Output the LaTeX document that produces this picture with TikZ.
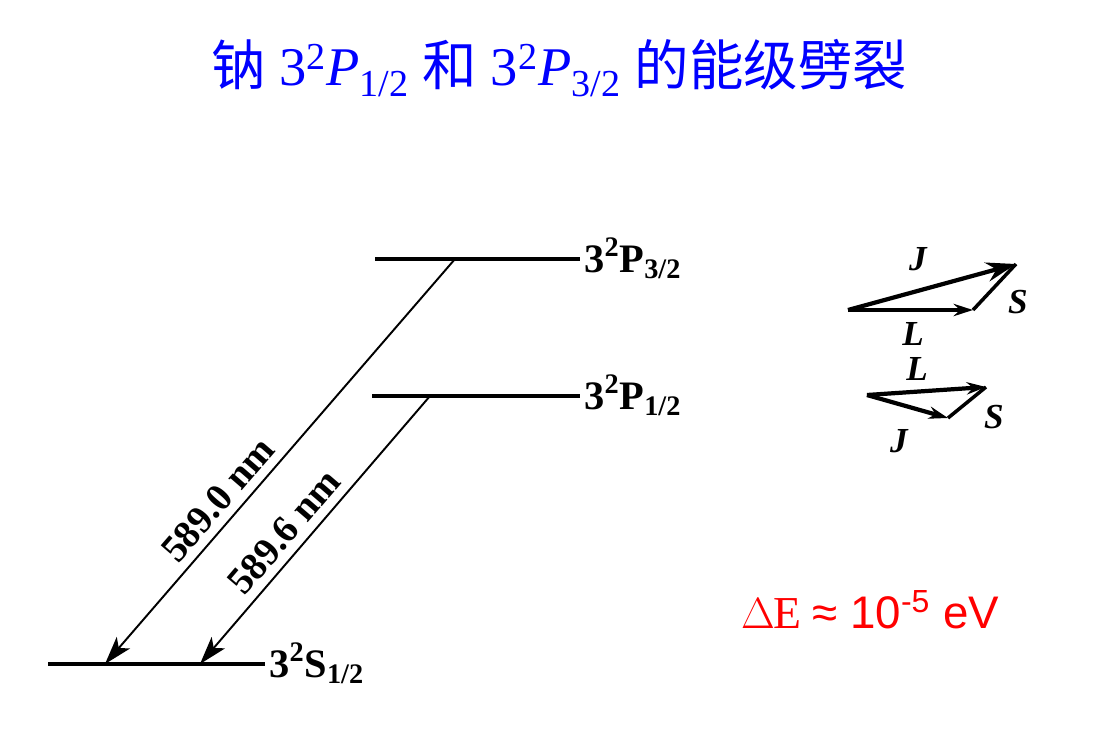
\documentclass[tikz,border=0pt]{standalone}
\usepackage{fontspec}
\setmainfont{Liberation Serif}
\setsansfont{Liberation Sans}
\newfontfamily\cjk{Noto Sans CJK SC}
\usetikzlibrary{arrows.meta}

\begin{document}
\begin{tikzpicture}[scale=0.2]
\tikzstyle{every node}+=[inner sep=0pt]
\tikzstyle{level}=[black, line width=2pt]
\tikzstyle{trans}=[black, line width=1.1pt, -{Stealth[length=16pt,width=10pt,inset=4pt]}]
\tikzstyle{vec}=[black, line width=2.4pt, -{Stealth[length=11pt,width=7pt]}]
\tikzstyle{term}=[anchor=base west, font=\fontsize{23}{23}\selectfont\bfseries]
\tikzstyle{wave}=[font=\fontsize{22}{22}\selectfont\bfseries, sloped, above=5pt]
\tikzstyle{vlab}=[font=\fontsize{20}{20}\selectfont\bfseries\itshape]
\useasboundingbox (0,0) rectangle (110.3,-73.2);
% title
\node (title) [text=blue, font=\fontsize{31}{31}\selectfont] at (55.9,-6.8)
  {{\cjk 钠} 3\textsuperscript{2}\textit{P}\textsubscript{1/2} {\cjk 和} 3\textsuperscript{2}\textit{P}\textsubscript{3/2} {\cjk 的能级劈裂}};
% levels
\coordinate (p3a) at (37.5,-25.9);
\coordinate (p3b) at (58,-25.9);
\coordinate (p1a) at (37.2,-39.6);
\coordinate (p1b) at (58,-39.6);
\coordinate (s1a) at (4.8,-66.4);
\coordinate (s1b) at (26.5,-66.4);
\draw [level] (p3a) -- (p3b);
\draw [level] (p1a) -- (p1b);
\draw [level] (s1a) -- (s1b);
\node (p3) [term] at (58.4,-27.2) {3\textsuperscript{2}P\textsubscript{3/2}};
\node (p1) [term] at (58.4,-40.9) {3\textsuperscript{2}P\textsubscript{1/2}};
\node (s1) [term] at (26.9,-67.7) {3\textsuperscript{2}S\textsubscript{1/2}};
% transitions
\coordinate (t1s) at (45.5,-25.9);
\coordinate (t1e) at (10.5,-66.4);
\coordinate (t2s) at (43,-39.6);
\coordinate (t2e) at (20,-66.4);
\draw [trans] (t1s) -- (t1e);
\draw [trans] (t2s) -- (t2e);
\path (t1e) -- (t1s) node [wave, pos=0.37] (w1) {589.0 nm};
\path (t2e) -- (t2s) node [wave, pos=0.44] (w2) {589.6 nm};
% vector model, j = 3/2
\coordinate (o1) at (84.8,-31.0);
\coordinate (l1) at (97.3,-31.0);
\coordinate (j1) at (101.6,-26.4);
\draw [vec] (o1) -- (l1);
\draw [black, line width=2pt] (l1) -- (j1);
\draw [vec, -{Stealth[length=17pt,width=11pt]}] (o1) -- (j1);
\node (J1) [vlab] at (91.8,-25.9) {J};
\node (S1) [vlab] at (101.8,-30.2) {S};
\node (L1) [vlab] at (91.3,-33.4) {L};
% vector model, j = 1/2
\coordinate (o2) at (86.7,-39.5);
\coordinate (l2) at (98.6,-38.7);
\coordinate (j2) at (94.8,-41.8);
\draw [vec] (o2) -- (l2);
\draw [vec] (o2) -- (j2);
\draw [black, line width=2pt] (j2) -- (l2);
\node (L2) [vlab] at (91.7,-36.9) {L};
\node (S2) [vlab] at (99.4,-41.7) {S};
\node (J2) [vlab] at (89.9,-44.1) {J};
% splitting
\node (dE) [text=red, font=\fontsize{26}{26}\selectfont] at (87.0,-61.0)
  {$\Delta$\hspace{-1pt}E {\sffamily ≈ 10\textsuperscript{-5} eV}};
\end{tikzpicture}
\end{document}
